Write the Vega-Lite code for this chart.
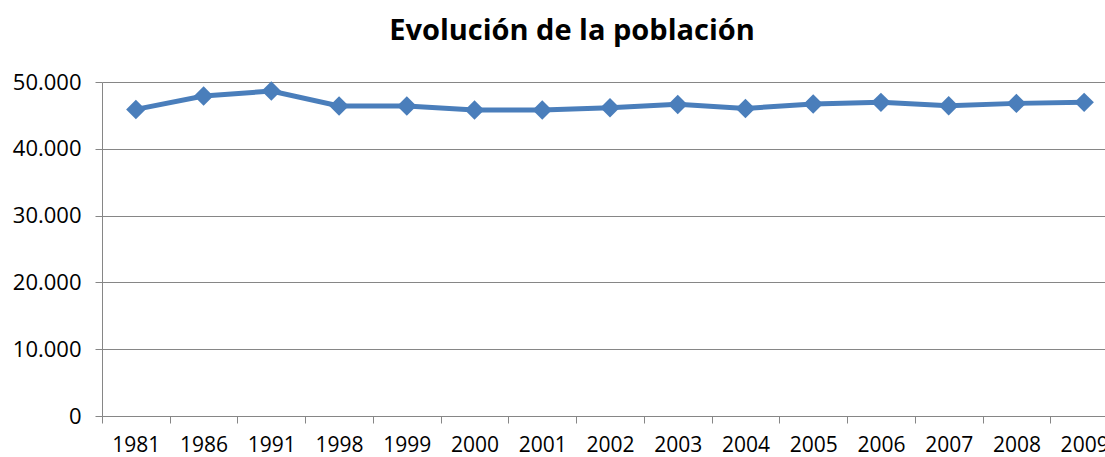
{
  "$schema": "https://vega.github.io/schema/vega-lite/v6.json",
  "autosize": "none",
  "width": 1016,
  "height": 334,
  "padding": {"left": 102, "top": 82, "right": 0, "bottom": 41},
  "background": "white",
  "config": {
    "view": {"stroke": null},
    "font": "Open Sans"
  },
  "title": {
    "text": "Evolución de la población",
    "font": "Open Sans",
    "fontSize": 29,
    "fontWeight": "bold",
    "color": "#000000",
    "anchor": "middle",
    "frame": "group",
    "dx": -38,
    "offset": 25
  },
  "data": {
    "values": [
      {"year": "1981", "pop": 45900},
      {"year": "1986", "pop": 47900},
      {"year": "1991", "pop": 48650},
      {"year": "1998", "pop": 46400},
      {"year": "1999", "pop": 46400},
      {"year": "2000", "pop": 45800},
      {"year": "2001", "pop": 45800},
      {"year": "2002", "pop": 46150},
      {"year": "2003", "pop": 46650},
      {"year": "2004", "pop": 46050},
      {"year": "2005", "pop": 46700},
      {"year": "2006", "pop": 46950},
      {"year": "2007", "pop": 46450},
      {"year": "2008", "pop": 46800},
      {"year": "2009", "pop": 46950}
    ]
  },
  "encoding": {
    "x": {
      "field": "year",
      "type": "ordinal",
      "sort": null,
      "scale": {"paddingInner": 0, "paddingOuter": 0},
      "axis": {
        "title": null,
        "labelAngle": 0,
        "labelFont": "Open Sans",
        "labelFontSize": 21,
        "labelColor": "#000000",
        "labelPadding": 11,
        "tickBand": "extent",
        "tickSize": 7,
        "tickColor": "#868686",
        "domainColor": "#868686",
        "grid": false
      }
    },
    "y": {
      "field": "pop",
      "type": "quantitative",
      "scale": {"domain": [0, 50000], "nice": false},
      "axis": {
        "title": null,
        "values": [0, 10000, 20000, 30000, 40000, 50000],
        "labelExpr": "replace(format(datum.value, ','), ',', '.')",
        "labelFont": "Open Sans",
        "labelFontSize": 22,
        "labelColor": "#000000",
        "labelPadding": 14,
        "tickSize": 7,
        "tickColor": "#868686",
        "domainColor": "#868686",
        "gridColor": "#868686",
        "grid": true
      }
    }
  },
  "layer": [
    {
      "mark": {"type": "line", "color": "#4a7ebb", "strokeWidth": 5}
    },
    {
      "mark": {"type": "point", "shape": "diamond", "filled": true, "size": 380, "color": "#4a7ebb", "opacity": 1}
    }
  ]
}
